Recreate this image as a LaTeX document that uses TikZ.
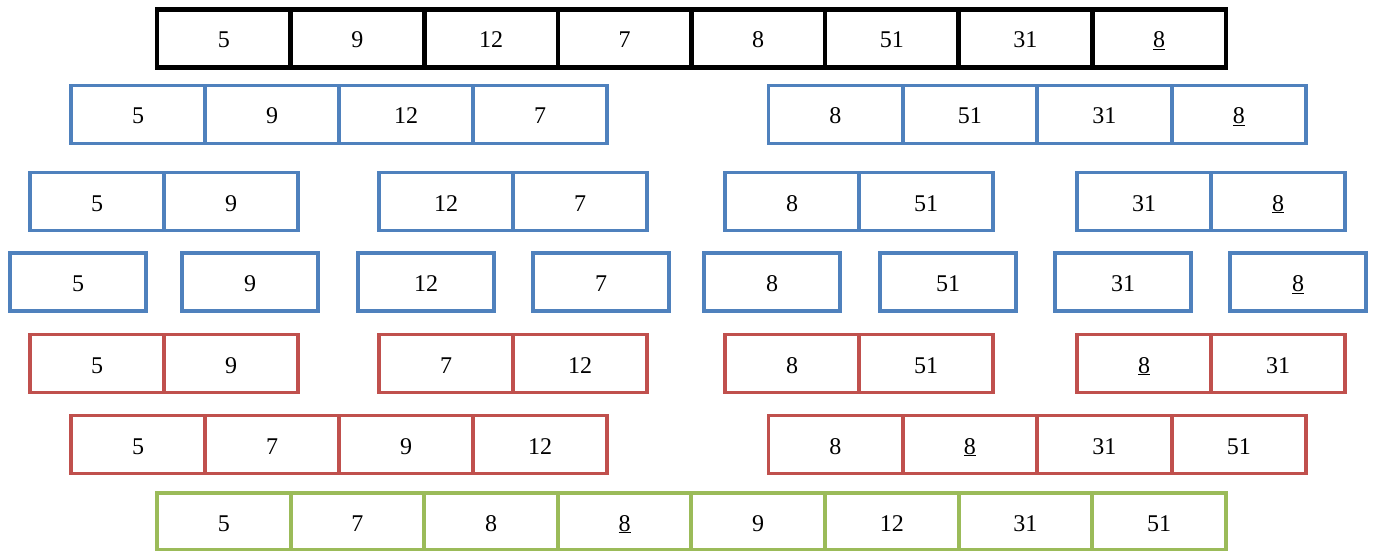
\documentclass[tikz,border=0pt]{standalone}
\usepackage{fontspec}
\setmainfont{Liberation Serif}
\usepackage{xcolor}
\usepackage{tikz}
\usetikzlibrary{positioning}
\definecolor{msblue}{HTML}{4F81BD}
\definecolor{msred}{HTML}{C0504D}
\definecolor{msgreen}{HTML}{9BBB59}

\begin{document}
\begin{tikzpicture}[x=1pt, y=1pt,
  cell/.style={rectangle, draw=#1, line width=3.5pt, minimum width=134pt,
    minimum height=58pt, inner sep=0pt, outer sep=0pt,
    text height=19pt, text depth=0pt,
    font=\fontsize{24}{28}\selectfont},
]
  \useasboundingbox (0,0) rectangle (1377,-551);

  \foreach \v [count=\i] in {5,9,12,7,8,51,31,{\underline{8}}}
    \node[cell=black, line width=4.2pt] (a\i) at ({157+133.6*(\i-0.5)},-38.5) {\v};

  \foreach \v [count=\i] in {5,9,12,7}
    \node[cell=msblue] (b\i) at ({71+134*(\i-0.5)},-114.5) {\v};
  \foreach \v [count=\i from 5] in {8,51,31,{\underline{8}}}
    \node[cell=msblue] (b\i) at ({768+134.5*(\i-4.5)},-114.5) {\v};

  \foreach \s/\p/\q [count=\k] in {30/5/9, 379/12/7, 725/8/51, 1077/31/{\underline{8}}} {
    \node[cell=msblue] (c\k a) at (\s+67,-201.5) {\p};
    \node[cell=msblue, right=0pt of c\k a] (c\k b) {\q};
  }

  \foreach \s/\v [count=\i] in {10/5, 182/9, 358/12, 533/7, 704/8, 880/51, 1055/31, 1230/{\underline{8}}}
    \node[cell=msblue, minimum width=136pt] (d\i) at (\s+68,-282) {\v};

  \foreach \s/\p/\q [count=\k] in {30/5/9, 379/7/12, 725/8/51, 1077/{\underline{8}}/31} {
    \node[cell=msred] (e\k a) at (\s+67,-363.5) {\p};
    \node[cell=msred, right=0pt of e\k a] (e\k b) {\q};
  }

  \foreach \v [count=\i] in {5,7,9,12}
    \node[cell=msred] (f\i) at ({71+134*(\i-0.5)},-444.5) {\v};
  \foreach \v [count=\i from 5] in {8,{\underline{8}},31,51}
    \node[cell=msred] (f\i) at ({768+134.5*(\i-4.5)},-444.5) {\v};

  \foreach \v [count=\i] in {5,7,8,{\underline{8}},9,12,31,51}
    \node[cell=msgreen, minimum height=57pt] (g\i) at ({157+133.6*(\i-0.5)},-521.5) {\v};
\end{tikzpicture}
\end{document}
